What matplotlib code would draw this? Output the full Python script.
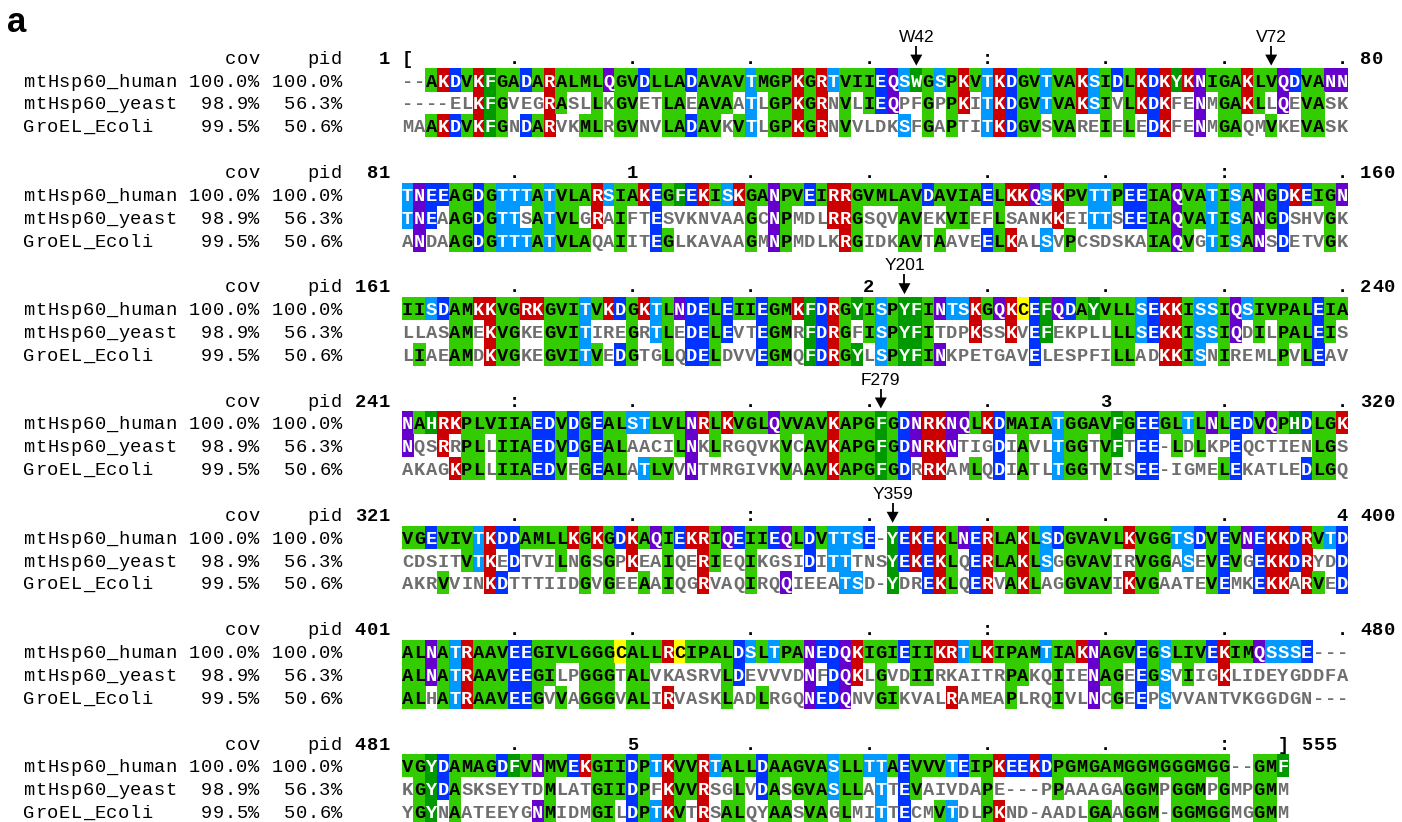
import matplotlib
matplotlib.use('Agg')
import matplotlib.pyplot as plt
from matplotlib.patches import Rectangle, Polygon

# alignment (MView style, 80 columns per block)
names = ['mtHsp60_human', 'mtHsp60_yeast', 'GroEL_Ecoli']
cov = ['100.0%', '98.9%', '99.5%']
pid = ['100.0%', '56.3%', '50.6%']

human = [
    "--AKDVKFGADARALMLQGVDLLADAVAVTMGPKGRTVIIEQSWGSPKVTKDGVTVAKSIDLKDKYKNIGAKLVQDVANN",
    "TNEEAGDGTTTATVLARSIAKEGFEKISKGANPVEIRRGVMLAVDAVIAELKKQSKPVTTPEEIAQVATISANGDKEIGN",
    "IISDAMKKVGRKGVITVKDGKTLNDELEIIEGMKFDRGYISPYFINTSKGQKCEFQDAYVLLSEKKISSIQSIVPALEIA",
    "NAHRKPLVIIAEDVDGEALSTLVLNRLKVGLQVVAVKAPGFGDNRKNQLKDMAIATGGAVFGEEGLTLNLEDVQPHDLGK",
    "VGEVIVTKDDAMLLKGKGDKAQIEKRIQEIIEQLDVTTSE-YEKEKLNERLAKLSDGVAVLKVGGTSDVEVNEKKDRVTD",
    "ALNATRAAVEEGIVLGGGCALLRCIPALDSLTPANEDQKIGIEIIKRTLKIPAMTIAKNAGVEGSLIVEKIMQSSSE---",
    "VGYDAMAGDFVNMVEKGIIDPTKVVRTALLDAAGVASLLTTAEVVVTEIPKEEKDPGMGAMGGMGGGMGG--GMF",
]
yeast = [
    "----ELKFGVEGRASLLKGVETLAEAVAATLGPKGRNVLIEQPFGPPKITKDGVTVAKSIVLKDKFENMGAKLLQEVASK",
    "TNEAAGDGTTSATVLGRAIFTESVKNVAAGCNPMDLRRGSQVAVEKVIEFLSANKKEITTSEEIAQVATISANGDSHVGK",
    "LLASAMEKVGKEGVITIREGRTLEDELEVTEGMRFDRGFISPYFITDPKSSKVEFEKPLLLLSEKKISSIQDILPALEIS",
    "NQSRRPLLIIAEDVDGEALAACILNKLRGQVKVCAVKAPGFGDNRKNTIGDIAVLTGGTVFTEE-LDLKPEQCTIENLGS",
    "CDSITVTKEDTVILNGSGPKEAIQERIEQIKGSIDITTTNSYEKEKLQERLAKLSGGVAVIRVGGASEVEVGEKKDRYDD",
    "ALNATRAAVEEGILPGGGTALVKASRVLDEVVVDNFDQKLGVDIIRKAITRPAKQIIENAGEEGSVIIGKLIDEYGDDFA",
    "KGYDASKSEYTDMLATGIIDPFKVVRSGLVDASGVASLLATTEVAIVDAPE---PPAAAGAGGMPGGMPGMPGMM",
]
ecoli = [
    "MAAKDVKFGNDARVKMLRGVNVLADAVKVTLGPKGRNVVLDKSFGAPTITKDGVSVAREIELEDKFENMGAQMVKEVASK",
    "ANDAAGDGTTTATVLAQAIITEGLKAVAAGMNPMDLKRGIDKAVTAAVEELKALSVPCSDSKAIAQVGTISANSDETVGK",
    "LIAEAMDKVGKEGVITVEDGTGLQDELDVVEGMQFDRGYLSPYFINKPETGAVELESPFILLADKKISNIREMLPVLEAV",
    "AKAGKPLLIIAEDVEGEALATLVVNTMRGIVKVAAVKAPGFGDRRKAMLQDIATLTGGTVISEE-IGMELEKATLEDLGQ",
    "AKRVVINKDTTTIIDGVGEEAAIQGRVAQIRQQIEEATSD-YDREKLQERVAKLAGGVAVIKVGAATEVEMKEKKARVED",
    "ALHATRAAVEEGVVAGGGVALIRVASKLADLRGQNEDQNVGIKVALRAMEAPLRQIVLNCGEEPSVVANTVKGGDGN---",
    "YGYNAATEEYGNMIDMGILDPTKVTRSALQYAASVAGLMITTECMVTDLPKND-AADLGAAGGM-GGMGGMGGMM",
]

# residues marked with an arrow (human numbering)
marks = ['W42', 'V72', 'Y201', 'F279', 'Y359']

# residue colours, coloured where identical to the human row
groups = {'AVLIMGP': '#33cc00', 'FWYH': '#009900', 'KR': '#cc0000',
          'DE': '#0033ff', 'NQ': '#6600cc', 'ST': '#0099ff', 'C': '#ffff00'}
bg = {aa: col for k, col in groups.items() for aa in k}
dark_text = set('AVLIMGPC')
grey = '#6e6e6e'

W, H = 1402, 822
fig = plt.figure(figsize=(W / 100, H / 100), dpi=100)
ax = fig.add_axes([0, 0, 1, 1])
ax.set_xlim(0, W)
ax.set_ylim(H, 0)
ax.axis('off')

x0 = 401.7   # left edge of column 1
cw = 11.83   # character width
y0 = 57.1    # centre of first ruler line
lh = 22.86   # line height
mono = 'Liberation Mono'


def cx(j):
    return x0 + (j - 0.5) * cw


def ly(k):
    return y0 + k * lh


def put(k, j, s, size=13.5, bold=False, color='black'):
    for n, ch in enumerate(s):
        if ch != ' ':
            ax.text(cx(j + n), ly(k) + 6.6, ch, ha='center', va='baseline',
                    family=mono, fontsize=size,
                    fontweight='bold' if bold else 'normal', color=color)


rows = [human, yeast, ecoli]
nblocks = len(human)
start = 1
for b in range(nblocks):
    k = 5 * b
    n = len(human[b])
    end = start + n - 1

    # ruler line
    put(k, -14, 'cov')
    put(k, -7, 'pid')
    put(k, -len(str(start)), str(start), bold=True)
    for c in range(n):
        g = start + c
        ch = ''
        if g == 1:
            ch = '['
        elif g % 100 == 0:
            ch = str(g // 100 % 10)
        elif g % 50 == 0:
            ch = ':'
        elif g % 10 == 0:
            ch = '.'
        if b == nblocks - 1 and c == n - 1:
            ch = ']'
        if ch:
            put(k, c + 1, ch, bold=True)
    put(k, n + 2, str(end), bold=True)

    for r, seqs in enumerate(rows):
        kk = k + 1 + r
        put(kk, -31, names[r])
        put(kk, -11 - len(cov[r]), cov[r])
        put(kk, -4 - len(pid[r]), pid[r])
        for c, res in enumerate(seqs[b]):
            ref = human[b][c]
            if res != '-' and res == ref:
                ax.add_patch(Rectangle((x0 + c * cw - 0.15, ly(kk) - lh / 2 - 0.15),
                                       cw + 0.3, lh + 0.3, facecolor=bg[res],
                                       edgecolor='none', lw=0))
                tc = 'black' if res in dark_text else 'white'
                put(kk, c + 1, res, bold=True, color=tc)
            else:
                put(kk, c + 1, res, bold=True, color=grey)
    start = end + 1

# arrows over marked residues
full = ''.join(human)
for m in marks:
    num = int(m[1:])
    count = 0
    for g, res in enumerate(full, start=1):
        if res != '-':
            count += 1
        if count == num:
            break
    b = (g - 1) // 80
    c = (g - 1) % 80 + 1
    x = cx(c)
    yr = ly(5 * b)
    ax.text(x, yr - 20, m, ha='center', va='center', family='Liberation Sans',
            fontsize=12.5)
    ax.plot([x, x], [yr - 11.5, yr - 1], color='black', lw=1.3,
            solid_capstyle='butt')
    ax.add_patch(Polygon([(x - 6, yr - 2.5), (x + 6, yr - 2.5), (x, yr + 8.5)],
                         closed=True, facecolor='black', edgecolor='none'))

ax.text(7, 32, 'a', family='Liberation Sans', fontsize=25, fontweight='bold',
        va='baseline')

fig.savefig('out.png', dpi=100)
